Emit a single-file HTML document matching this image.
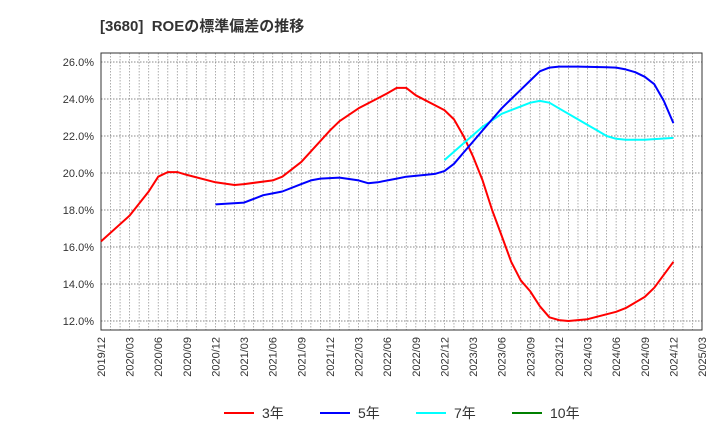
<!DOCTYPE html>
<html><head><meta charset="utf-8"><style>
body{margin:0;background:#fff;font-family:"Liberation Sans","Noto Sans CJK JP",sans-serif}
</style></head><body>
<svg id="c" width="720" height="440" xmlns="http://www.w3.org/2000/svg" font-family="Liberation Sans, Noto Sans CJK JP, sans-serif">
<text x="100" y="31" font-size="15" font-weight="bold" fill="#333">[3680]&#160; ROEの標準偏差の推移</text>
</svg>
<script>
const yTicks=[12,14,16,18,20,22,24,26];
const xLabels=["2019/12","2020/03","2020/06","2020/09","2020/12","2021/03","2021/06","2021/09","2021/12","2022/03","2022/06","2022/09","2022/12","2023/03","2023/06","2023/09","2023/12","2024/03","2024/06","2024/09","2024/12","2025/03"];
const s3m=[0,3,5,6,7,8,9,12,14,15,18,19,21,24,25,27,30,31,32,33,36,37,38,39,40,41,42,43,44,45,46,47,48,49,51,54,55,57,58,60];
const s3v=[16.3,17.7,19.0,19.8,20.05,20.05,19.9,19.5,19.35,19.4,19.6,19.8,20.6,22.3,22.8,23.5,24.3,24.6,24.6,24.2,23.4,22.9,22.0,20.9,19.6,18.0,16.6,15.2,14.2,13.6,12.8,12.2,12.05,12.0,12.1,12.5,12.7,13.3,13.8,15.2];
const s5m=[12,15,17,18,19,21,22,23,25,27,28,29,31,32,34,35,36,37,38,39,40,41,42,43,44,45,46,47,48,50,53,54,55,56,57,58,59,60];
const s5v=[18.3,18.4,18.8,18.9,19.0,19.4,19.6,19.7,19.75,19.6,19.45,19.5,19.7,19.8,19.9,19.95,20.1,20.5,21.1,21.7,22.3,22.9,23.5,24.0,24.5,25.0,25.5,25.7,25.75,25.75,25.72,25.7,25.6,25.45,25.2,24.8,23.9,22.7];
const s7m=[36,38,40,42,44,45,46,47,48,50,52,53,54,55,57,60];
const s7v=[20.7,21.6,22.5,23.2,23.6,23.8,23.9,23.8,23.5,22.9,22.3,22.0,21.85,21.8,21.8,21.9];
const L=101,R=702,T=53,B=330;
const X=m=>L+m*(R-L)/63, Y=v=>62+(26-v)*18.5;
const svg=document.getElementById('c'),NS="http://www.w3.org/2000/svg";
function mk(t,a,p){const e=document.createElementNS(NS,t);for(const k in a)e.setAttribute(k,a[k]);(p||svg).appendChild(e);return e;}
for(let m=1;m<63;m++){const e=mk('line',{x1:X(m),x2:X(m),y1:T,y2:B,stroke:'#999','stroke-dasharray':'1.5,1.5','stroke-width':0.8});

}
yTicks.forEach(v=>{const e=mk('line',{x1:L,x2:R,y1:Y(v),y2:Y(v),stroke:'#888','stroke-dasharray':'1.5,1.5','stroke-width':0.9});


const t=mk('text',{x:94,y:Y(v)+4,'text-anchor':'end','font-size':11,fill:'#333'});t.textContent=v.toFixed(1)+'%';

});
xLabels.forEach((s,i)=>{const x=X(i*3);const t=mk('text',{transform:`translate(${x+4},337) rotate(-90)`,'text-anchor':'end','font-size':11,fill:'#333'});t.textContent=s;

});
const bx=mk('rect',{x:L,y:T,width:R-L,height:B-T,fill:'none',stroke:'#333','stroke-width':1});


function series(ms,vs,c,n){const d=ms.map((m,i)=>(i?'L':'M')+X(m).toFixed(1)+','+Y(vs[i]).toFixed(1)).join('');
const p=mk('path',{d:d,fill:'none',stroke:c,'stroke-width':2,'stroke-linejoin':'round'});

}
series(s3m,s3v,'#f00','series-3yr');
series(s7m,s7v,'#0ff','series-7yr');
series(s5m,s5v,'#00f','series-5yr');
[['3年','#f00',224],['5年','#00f',320],['7年','#0ff',416],['10年','#008000',512]].forEach(a=>{
const g=mk('g',{});


mk('line',{x1:a[2],x2:a[2]+30,y1:413,y2:413,stroke:a[1],'stroke-width':2},g);
const t=mk('text',{x:a[2]+38,y:418,'font-size':14,fill:'#333'},g);t.textContent=a[0];});
</script>
</body></html>
